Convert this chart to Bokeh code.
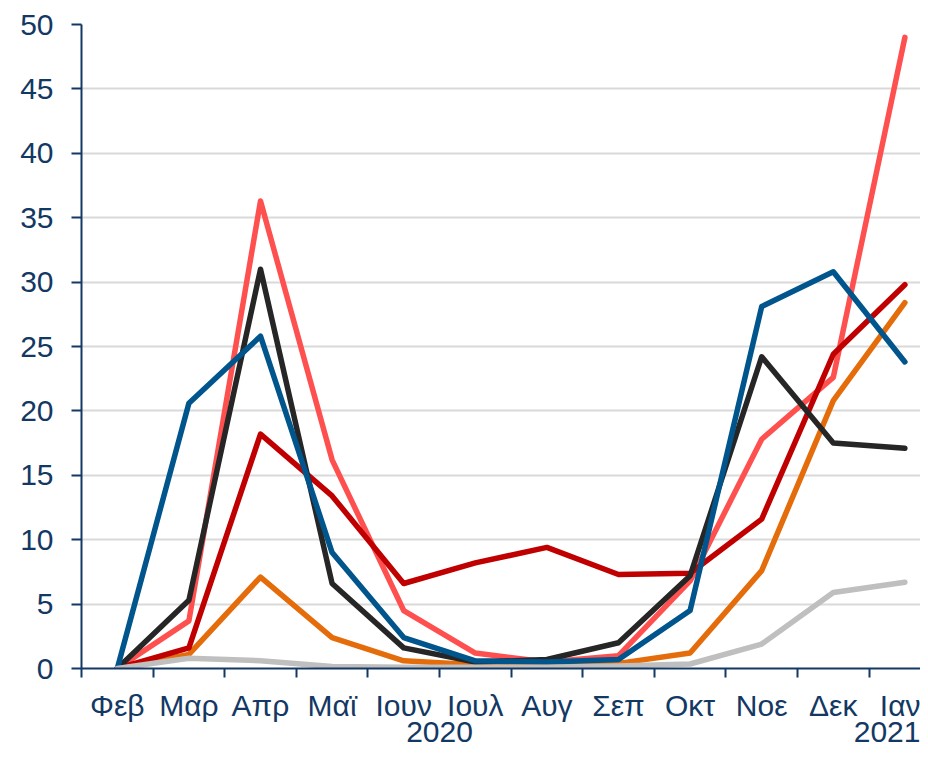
from bokeh.plotting import figure
from bokeh.models import FixedTicker, LinearAxis, Range1d
from bokeh.embed import file_html
from bokeh.resources import INLINE

months = ["Φεβ", "Μαρ", "Απρ", "Μαϊ", "Ιουν", "Ιουλ", "Αυγ", "Σεπ", "Οκτ", "Νοε", "Δεκ", "Ιαν"]
years = ["2020", "2021"]
year_positions = [4.5, 11]
y_ticks = [0, 5, 10, 15, 20, 25, 30, 35, 40, 45, 50]

coral = [0, 3.7, 36.3, 16.2, 4.5, 1.2, 0.5, 1.0, 6.8, 17.8, 22.6, 49.0]
dark_red = [0, 1.6, 18.2, 13.4, 6.6, 8.2, 9.4, 7.3, 7.4, 11.6, 24.4, 29.8]
blue = [0, 20.6, 25.8, 9.0, 2.4, 0.6, 0.5, 0.7, 4.5, 28.1, 30.8, 23.8]
black = [0, 5.3, 31.0, 6.6, 1.6, 0.5, 0.7, 2.0, 7.2, 24.2, 17.5, 17.1]
orange = [0, 1.1, 7.1, 2.4, 0.6, 0.3, 0.3, 0.4, 1.2, 7.6, 20.8, 28.4]
gray = [0, 0.8, 0.6, 0.15, 0.1, 0.1, 0.1, 0.2, 0.35, 1.9, 5.9, 6.7]

NAVY = "#133863"
FONT = "Liberation Sans"
FS = "30px"

x = list(range(len(months)))

p = figure(width=920, height=752, output_backend="svg", toolbar_location=None,
           x_range=Range1d(-0.5, 11.218), y_range=Range1d(0, 50),
           min_border_left=81, min_border_right=0, min_border_top=24,
           min_border_bottom=84, x_axis_location=None, y_axis_location=None)
p.outline_line_color = None
p.background_fill_color = "white"
p.border_fill_color = "white"

# grid
p.xgrid.visible = False
p.ygrid.ticker = FixedTicker(ticks=y_ticks[1:])
p.ygrid.grid_line_color = "#D9D9D9"
p.ygrid.grid_line_width = 2

# y axis
yax = LinearAxis(ticker=FixedTicker(ticks=y_ticks))
yax.axis_line_color = NAVY
yax.axis_line_width = 2
yax.major_tick_line_color = NAVY
yax.major_tick_line_width = 2
yax.major_tick_out = 10
yax.major_tick_in = 0
yax.minor_tick_line_color = None
yax.major_label_standoff = 18
yax.major_label_text_font = FONT
yax.major_label_text_font_size = FS
yax.major_label_text_color = NAVY
p.add_layout(yax, "left")

# x axis with months
xax = LinearAxis(ticker=FixedTicker(ticks=x, minor_ticks=[i - 0.5 for i in range(12)]))
xax.major_label_overrides = {i: m for i, m in enumerate(months)}
xax.axis_line_color = NAVY
xax.axis_line_width = 2
xax.major_tick_line_color = None
xax.major_tick_out = 9
xax.major_tick_in = 0
xax.minor_tick_line_color = NAVY
xax.minor_tick_line_width = 2
xax.minor_tick_out = 9
xax.minor_tick_in = 0
xax.major_label_standoff = 11
xax.major_label_text_font = FONT
xax.major_label_text_font_size = FS
xax.major_label_text_color = NAVY
p.add_layout(xax, "below")

# year axis (second row of category labels)
yrax = LinearAxis(ticker=FixedTicker(ticks=year_positions))
yrax.major_label_overrides = {pos: yr for pos, yr in zip(year_positions, years)}
yrax.axis_line_color = None
yrax.major_tick_line_color = None
yrax.minor_tick_line_color = None
yrax.major_tick_out = 0
yrax.major_tick_in = 0
yrax.major_label_standoff = -3
yrax.major_label_text_font = FONT
yrax.major_label_text_font_size = FS
yrax.major_label_text_color = NAVY
p.add_layout(yrax, "below")

series = [
    (orange, "#E46C0A"),
    (coral, "#FF5050"),
    (dark_red, "#C00000"),
    (black, "#262626"),
    (blue, "#00558C"),
    (gray, "#BFBFBF"),
]
for ys, col in series:
    p.line(x, ys, line_color=col, line_width=5.5, line_cap="round", line_join="round")

open("out.html", "w").write(file_html(p, INLINE))
